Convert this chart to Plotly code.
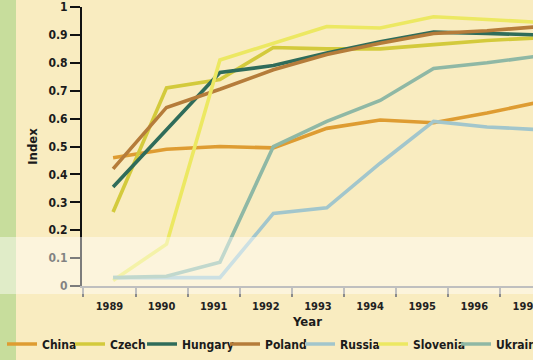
import plotly.graph_objects as go

# ---------------- data ----------------
years = [1989, 1990, 1991, 1992, 1993, 1994, 1995, 1996, 1997]
year_labels = ["1989", "1990", "1991", "1992", "1993", "1994", "1995", "1996", "1997"]

china    = [0.46, 0.49, 0.50, 0.495, 0.565, 0.595, 0.585, 0.62, 0.66]
czech    = [0.265, 0.71, 0.74, 0.855, 0.85, 0.85, 0.865, 0.88, 0.89]
hungary  = [0.355, 0.56, 0.765, 0.79, 0.835, 0.875, 0.91, 0.905, 0.90]
poland   = [0.42, 0.64, 0.705, 0.775, 0.83, 0.87, 0.905, 0.915, 0.93]
russia   = [0.03, 0.03, 0.03, 0.26, 0.28, 0.44, 0.59, 0.57, 0.56]
slovenia = [0.02, 0.15, 0.81, 0.87, 0.93, 0.925, 0.965, 0.955, 0.945]
ukraine  = [0.03, 0.035, 0.085, 0.50, 0.59, 0.665, 0.78, 0.80, 0.825]

series_names = ["China", "Czech", "Hungary", "Poland", "Russia", "Slovenia", "Ukraine"]
series_values = [china, czech, hungary, poland, russia, slovenia, ukraine]

y_tick_vals = [0, 0.1, 0.2, 0.3, 0.4, 0.5, 0.6, 0.7, 0.8, 0.9, 1]
y_tick_text = ["0", "0.1", "0.2", "0.3", "0.4", "0.5", "0.6", "0.7", "0.8", "0.9", "1"]

# ---------------- style ----------------
colors = ["#DE9C32", "#D3CA3C", "#2F6C5A", "#B57C3A", "#A2C6CC", "#ECE862", "#8FB8A5"]
FONT = "DejaVu Sans Condensed, Liberation Sans Narrow, Arial Narrow, sans-serif"
W, H = 533, 360
ML, MT, MB = 82, 7, 74
legend_text_x = [42, 110, 182, 265, 340, 413, 496]

fig = go.Figure()
legend_ids = ["legend"] + ["legend%d" % (i + 1) for i in range(1, len(series_names))]
for name, vals, col, lid in zip(series_names, series_values, colors, legend_ids):
    fig.add_trace(go.Scatter(
        x=years, y=vals, mode="lines", name=name, legend=lid,
        line=dict(color=col, width=3.6), xaxis="x", yaxis="y",
        hoverinfo="skip"))

# empty helper trace so the labelled year axis (x2) is drawn
fig.add_trace(go.Scatter(x=years, y=[None] * len(years), xaxis="x2", yaxis="y",
                         mode="lines", showlegend=False, hoverinfo="skip"))

layout = dict(
    width=W, height=H,
    margin=dict(l=ML, r=0, t=MT, b=MB, autoexpand=False),
    paper_bgcolor="#F9ECC0", plot_bgcolor="rgba(0,0,0,0)",
    font=dict(family=FONT, color="#1b1b1b", size=12, weight="bold"),
    xaxis=dict(range=[1988.418, 1996.861], visible=False, fixedrange=True),
    xaxis2=dict(
        overlaying="x", anchor="y", side="bottom",
        range=[1988.473, 1997.127],
        tickmode="array", tickvals=years, ticktext=year_labels,
        ticks="outside", ticklen=9, tickcolor="rgba(0,0,0,0)",
        ticklabeloverflow="allow",
        tickfont=dict(family=FONT, size=11, color="#222", weight="bold"),
        minor=dict(tickmode="array", tickvals=[y - 0.5 for y in years] + [years[-1] + 0.5],
                   ticks="outside", ticklen=9, tickwidth=1.5, tickcolor="#8a8a8a"),
        showline=True, linecolor="#8a8a8a", linewidth=2,
        showgrid=False, zeroline=False,
        title=dict(text="Year", standoff=6,
                   font=dict(family=FONT, size=13, color="#1b1b1b", weight="bold")),
    ),
    yaxis=dict(
        range=[0, 1], tickmode="array", tickvals=y_tick_vals, ticktext=y_tick_text,
        ticks="outside", ticklen=10, tickwidth=1.5, tickcolor="#111",
        ticklabeloverflow="allow",
        tickfont=dict(family=FONT, size=12, color="#1b1b1b", weight="bold"),
        showline=True, linecolor="#111", linewidth=2,
        showgrid=False, zeroline=False,
        title=dict(text="Index", standoff=8,
                   font=dict(family=FONT, size=13, color="#1b1b1b", weight="bold")),
    ),
    showlegend=True,
)

for lid, tx in zip(legend_ids, legend_text_x):
    layout[lid] = dict(
        xref="container", yref="container", x=(tx - 40) / W, y=1 - 344 / H,
        xanchor="left", yanchor="middle", orientation="h",
        bgcolor="rgba(0,0,0,0)", itemwidth=30,
        font=dict(family=FONT, size=12, color="#1b1b1b", weight="bold"),
    )

pw = W - ML
ph = H - MT - MB
def px_x(p):
    return (p - ML) / pw
def px_y(p):
    return (H - MB - p) / ph

layout["shapes"] = [
    dict(type="rect", xref="paper", yref="paper", layer="below",
         x0=px_x(0), x1=px_x(16), y0=px_y(360), y1=px_y(0),
         fillcolor="#C7DD9C", line=dict(width=0)),
    dict(type="rect", xref="paper", yref="paper", layer="above",
         x0=px_x(0), x1=px_x(533), y0=px_y(294), y1=px_y(237),
         fillcolor="rgba(255,255,255,0.45)", line=dict(width=0)),
]

fig.update_layout(**layout)
fig.write_html("out.html", config={"displayModeBar": False},
               post_script="document.body.style.margin='0px';"
                           "document.body.style.background='#F9ECC0';")
